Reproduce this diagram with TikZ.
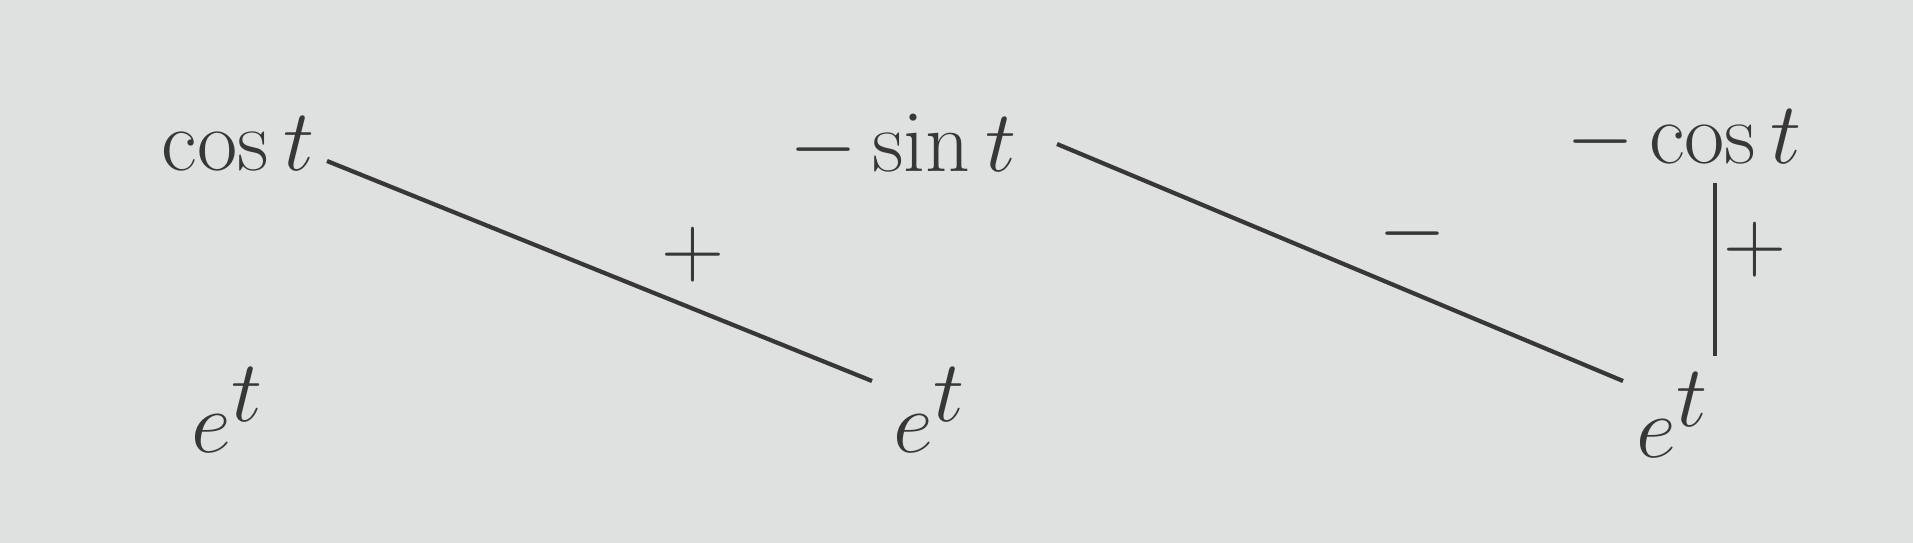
\documentclass[tikz,border=0pt]{standalone}
\usepackage{xcolor}
\definecolor{bg}{RGB}{222,225,224}
\definecolor{ink}{RGB}{55,55,55}
\begin{document}
\begin{tikzpicture}[x=0.01cm,y=-0.01cm,
  lab/.style={text=ink,font=\fontsize{30}{34}\selectfont,inner sep=0pt},
  elab/.style={text=ink,font=\fontsize{40}{44}\selectfont,inner sep=0pt},
  sgn/.style={text=ink,font=\fontsize{28}{30}\selectfont,inner sep=0pt},
  conn/.style={draw=ink,line width=1.2pt}]
\fill[bg] (0,0) rectangle (1913,543);
\useasboundingbox (0,0) rectangle (1913,543);
\node[lab] (c1) at (238,144) {$\cos t$};
\node[lab] (c2) at (903,146) {${-}\sin t$};
\node[lab] (c3) at (1684,140) {${-}\cos t$};
\node[elab] (e1) at (228,410) {$e^t$};
\node[elab] (e2) at (930,410) {$e^t$};
\node[elab] (e3) at (1673,415) {$e^t$};
\coordinate (a1) at (327,161);
\coordinate (b1) at (872,381);
\coordinate (a2) at (1057,144);
\coordinate (b2) at (1623,381);
\coordinate (a3) at (1715,183);
\coordinate (b3) at (1715,356);
\draw[conn] (a1) -- (b1);
\draw[conn] (a2) -- (b2);
\draw[conn] (a3) -- (b3);
\node[sgn] (s1) at (693,255) {$+$};
\node[sgn] (s2) at (1412,234) {$-$};
\node[sgn] (s3) at (1755,250) {$+$};
\end{tikzpicture}
\end{document}
